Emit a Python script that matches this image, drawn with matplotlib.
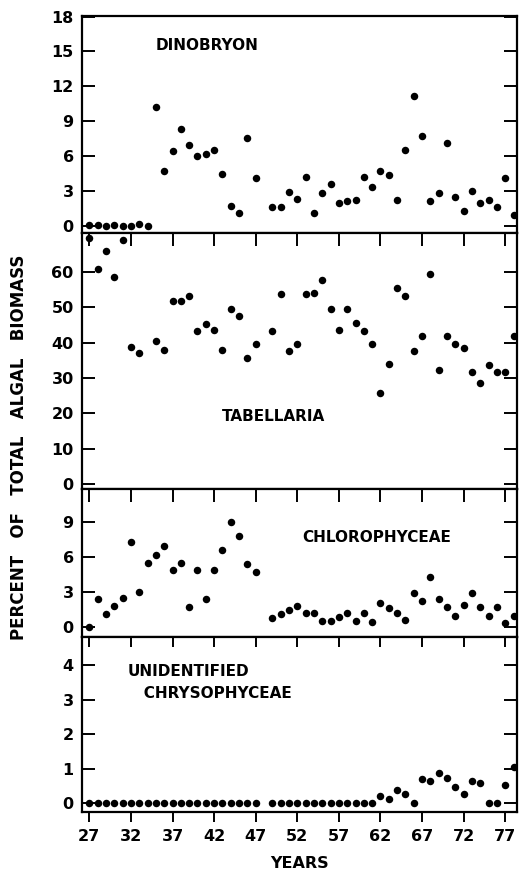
import numpy as np
import matplotlib
matplotlib.use("Agg")
import matplotlib.pyplot as plt

nan = np.nan

# sampling years (19xx); 1948 has no sample
years = list(range(27, 79))

dinobryon = [0.1, 0.1, 0.0, 0.1, 0.0, 0.0, 0.2, 0.0, 10.2, 4.7,
             6.45, 8.3, 7.0, 6.05, 6.15, 6.55, 4.5, 1.7, 1.1, 7.55,
             4.1, nan, 1.6, 1.65, 2.9, 2.35, 4.2, 1.15, 2.8, 3.6,
             2.0, 2.15, 2.2, 4.25, 3.35, 4.75, 4.35, 2.2, 6.5, 11.15,
             7.7, 2.15, 2.85, 7.1, 2.5, 1.25, 3.05, 2.0, 2.2, 1.65,
             4.1, 0.95]

tabellaria = [69.4, 60.7, 65.8, 58.4, 68.8, 38.7, 37.0, nan, 40.3, 38.0,
              51.8, 51.8, 53.2, 43.2, 45.2, 43.5, 37.8, 49.4, 47.4, 35.7,
              39.6, nan, 43.3, 53.8, 37.6, 39.5, 53.8, 54.0, 57.6, 49.4,
              43.6, 49.4, 45.5, 43.2, 39.5, 25.9, 33.9, 55.5, 53.2, 37.7,
              41.9, 59.4, 32.4, 41.9, 39.6, 38.6, 31.7, 28.5, 33.6, 31.8,
              31.7, 41.8]

chlorophyceae = [0.0, 2.4, 1.1, 1.8, 2.5, 7.3, 3.05, 5.5, 6.2, 6.9,
                 4.9, 5.5, 1.7, 4.9, 2.4, 4.9, 6.6, 9.0, 7.8, 5.4,
                 4.7, nan, 0.8, 1.1, 1.45, 1.8, 1.25, 1.2, 0.5, 0.5,
                 0.9, 1.25, 0.55, 1.25, 0.45, 2.1, 1.65, 1.2, 0.6, 2.95,
                 2.25, 4.3, 2.45, 1.75, 1.0, 1.9, 2.9, 1.7, 1.0, 1.75,
                 0.4, 1.0]

chrysophyceae = [0.0, 0.0, 0.0, 0.0, 0.0, 0.0, 0.0, 0.0, 0.0, 0.0,
                 0.0, 0.0, 0.0, 0.0, 0.0, 0.0, 0.0, 0.0, 0.0, 0.0,
                 0.0, nan, 0.0, 0.0, 0.0, 0.0, 0.0, 0.0, 0.0, 0.0,
                 0.0, 0.0, 0.0, 0.0, 0.0, 0.2, 0.12, 0.38, 0.28, 0.0,
                 0.71, 0.65, 0.87, 0.73, 0.48, 0.28, 0.65, 0.59, 0.0, 0.0,
                 0.52, 1.06]

xticks = [27, 32, 37, 42, 47, 52, 57, 62, 67, 72, 77]

# series, y ticks, y limits, label lines, label position (axes fraction)
panels = [
    (dinobryon, [0, 3, 6, 9, 12, 15, 18], (-0.6, 18.05),
     ["DINOBRYON"], (0.170, 0.862)),
    (tabellaria, [0, 10, 20, 30, 40, 50, 60], (-1.3, 70.9),
     ["TABELLARIA"], (0.321, 0.285)),
    (chlorophyceae, [0, 3, 6, 9], (-0.83, 11.8),
     ["CHLOROPHYCEAE"], (0.507, 0.671)),
    (chrysophyceae, [0, 1, 2, 3, 4], (-0.25, 4.81),
     ["UNIDENTIFIED", "   CHRYSOPHYCEAE"], (0.105, 0.802)),
]

# axes boxes as pixel rows (top, bottom) on a 531x871 canvas
W, H = 531, 871
boxes = [(16, 233), (233, 489), (489, 637), (637, 812)]
left_px, right_px = 82, 517

plt.rcParams['font.family'] = ['DejaVu Sans']
plt.rcParams['font.weight'] = 'bold'

fig = plt.figure(figsize=(W / 100, H / 100), dpi=100)

for i, ((vals, yt, ylim, lines, pos), (top, bot)) in enumerate(zip(panels, boxes)):
    ax = fig.add_axes([left_px / W, (H - bot) / H,
                       (right_px - left_px) / W, (bot - top) / H])
    ax.plot(years, vals, 'o', color='black', markersize=5.4,
            markeredgewidth=0)
    ax.set_xlim(26.12, 78.41)
    ax.set_ylim(*ylim)
    ax.set_yticks(yt)
    ax.set_yticklabels([str(v) for v in yt])
    ax.set_xticks(xticks)
    for s in ax.spines.values():
        s.set_linewidth(1.6)
    ax.tick_params(axis='y', direction='in', length=9.5, width=1.4,
                   left=True, right=True, labelsize=11.5, pad=6)

    last = i == len(panels) - 1
    if i == 0:
        ax.tick_params(axis='x', bottom=False, top=False,
                       labelbottom=False)
    else:
        ax.tick_params(axis='x', which='major', top=True, bottom=False,
                       direction='in', length=9.5, width=1.4,
                       labelbottom=False)
    if last:
        # outward ticks along the bottom with year labels; top stays inside
        ax.tick_params(axis='x', bottom=True, labelbottom=True,
                       direction='out', length=7, width=1.4,
                       labelsize=11.5, pad=5)
        for t in ax.xaxis.get_major_ticks():
            t.tick2line.set_marker(matplotlib.lines.TICKDOWN)
        ax.set_xlabel("YEARS", fontsize=11.5, fontweight='bold',
                      labelpad=9)

    dy = 0.0
    for line in lines:
        ax.text(pos[0], pos[1] - dy, line, transform=ax.transAxes,
                fontsize=11, fontweight='bold', ha='left', va='center')
        dy += 22 / (bot - top)

fig.text(19 / W, 1 - 447 / H, "PERCENT   OF   TOTAL   ALGAL   BIOMASS",
         rotation=90, ha='center', va='center', fontsize=12,
         fontweight='bold')

fig.savefig("out.png", dpi=100, facecolor='white')
